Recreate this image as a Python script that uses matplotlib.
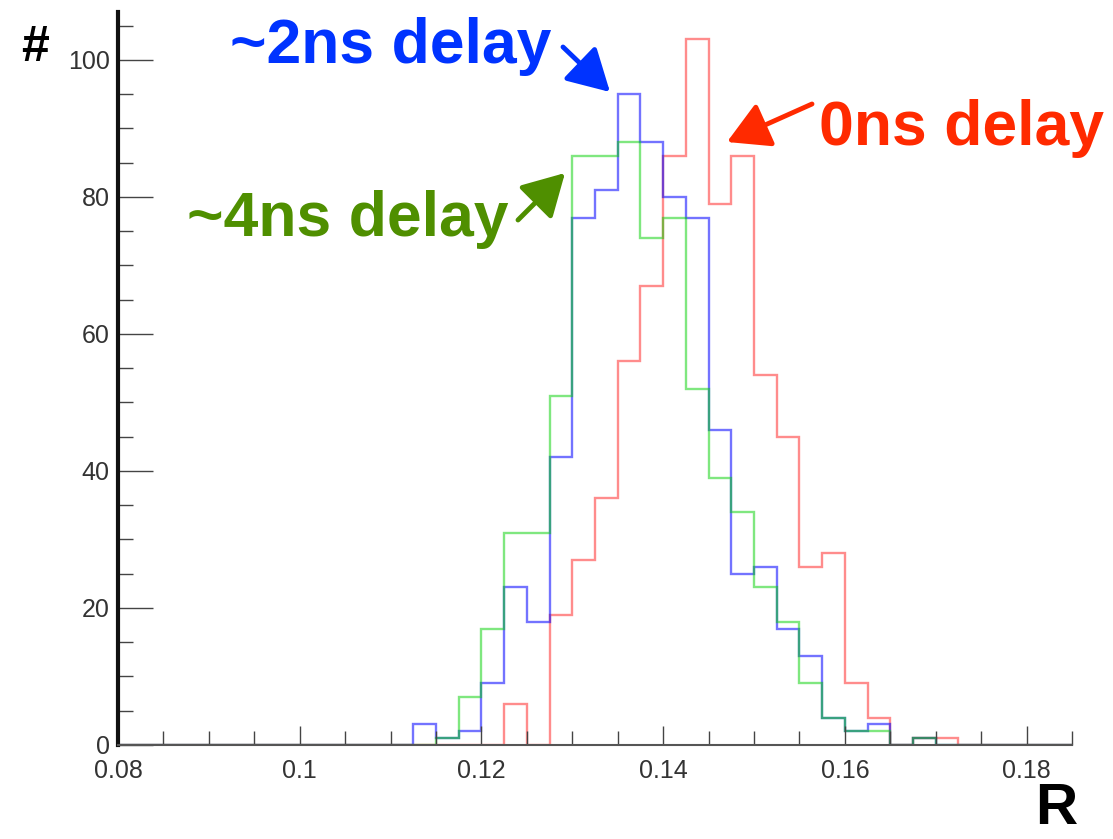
import numpy as np
import matplotlib.pyplot as plt
from matplotlib.ticker import MultipleLocator

# bin edges: 0.08 .. 0.185 in steps of 0.0025 (42 bins)
edges = np.round(np.arange(0.08, 0.18501, 0.0025), 4)

# counts per bin
zero = [0] * 42
red = list(zero)
blue = list(zero)
green = list(zero)
red_vals = {17: 6, 19: 19, 20: 27, 21: 36, 22: 56, 23: 67, 24: 86, 25: 103,
            26: 79, 27: 86, 28: 54, 29: 45, 30: 26, 31: 28, 32: 9, 33: 4,
            35: 1, 36: 1}
blue_vals = {13: 3, 14: 1, 15: 2, 16: 9, 17: 23, 18: 18, 19: 42, 20: 77,
             21: 81, 22: 95, 23: 88, 24: 80, 25: 77, 26: 46, 27: 25, 28: 26,
             29: 17, 30: 13, 31: 4, 32: 2, 33: 3, 35: 1}
green_vals = {14: 1, 15: 7, 16: 17, 17: 31, 18: 31, 19: 51, 20: 86, 21: 86,
              22: 88, 23: 74, 24: 77, 25: 52, 26: 39, 27: 34, 28: 23, 29: 18,
              30: 9, 31: 4, 32: 2, 33: 2, 35: 1}
for k, v in red_vals.items():
    red[k] = v
for k, v in blue_vals.items():
    blue[k] = v
for k, v in green_vals.items():
    green[k] = v

W, H = 1113, 839
fig = plt.figure(figsize=(W / 100, H / 100), dpi=100)
ax = fig.add_axes([118 / W, 1 - 745 / H, (1072 - 118) / W, (745 - 12) / H])

ax.stairs(red, edges, baseline=0, color='#ff0000', alpha=0.45, lw=1.7)
ax.stairs(blue, edges, baseline=0, color='#0000ff', alpha=0.55, lw=1.7)
ax.stairs(green, edges, baseline=0, color='#00d000', alpha=0.5, lw=1.7)

ax.set_xlim(0.08, 0.185)
ax.set_ylim(0, 107)

for s in ['top', 'right']:
    ax.spines[s].set_visible(False)
ax.spines['left'].set_linewidth(3)
ax.spines['left'].set_color('#111111')
ax.spines['bottom'].set_linewidth(1.5)
ax.spines['bottom'].set_color('#555555')

ax.xaxis.set_major_locator(MultipleLocator(0.02))
ax.xaxis.set_minor_locator(MultipleLocator(0.005))
ax.yaxis.set_major_locator(MultipleLocator(20))
ax.yaxis.set_minor_locator(MultipleLocator(5))
ax.xaxis.set_major_formatter(plt.FuncFormatter(lambda v, p: ('%g' % round(v, 3))))

ax.tick_params(axis='y', which='major', direction='in', length=25, width=1, color='#444444',
               labelsize=18, labelcolor='#333333', pad=6)
ax.tick_params(axis='y', which='minor', direction='in', length=11, width=1, color='#444444')
ax.tick_params(axis='x', which='major', direction='in', length=14, width=1, color='#444444',
               labelsize=18, labelcolor='#333333', pad=10)
ax.tick_params(axis='x', which='minor', direction='in', length=10, width=1, color='#444444')
for lab in ax.get_xticklabels() + ax.get_yticklabels():
    lab.set_family('Liberation Sans')

fig.text(35 / W, 1 - 48 / H, '#', ha='center', va='center', fontsize=36,
         weight='bold', family='Liberation Sans')
fig.text(1056 / W, 1 - 824 / H, 'R', ha='center', va='baseline', fontsize=42,
         weight='bold', family='Liberation Sans')

labels = [
    ('~2ns delay', 230, 63, '#0033ff', (563, 47), (610, 92)),
    ('~4ns delay', 187, 236, '#4f8f00', (518, 220), (565, 173)),
    ('0ns delay', 819, 145, '#ff2a00', (812, 104), (727, 142)),
]
for txt, tx, ty, col, tail, tip in labels:
    fig.text(tx / W, 1 - ty / H, txt, ha='left', va='baseline', fontsize=45,
             weight='bold', color=col, family='Liberation Sans')
    ax.annotate('', xy=(tip[0], H - tip[1]), xytext=(tail[0], H - tail[1]),
                xycoords='figure pixels', textcoords='figure pixels',
                arrowprops=dict(arrowstyle='-|>,head_length=0.8,head_width=0.45',
                                lw=3.5, color=col, mutation_scale=32,
                                shrinkA=0, shrinkB=0))

fig.savefig('out.png', dpi=100)
